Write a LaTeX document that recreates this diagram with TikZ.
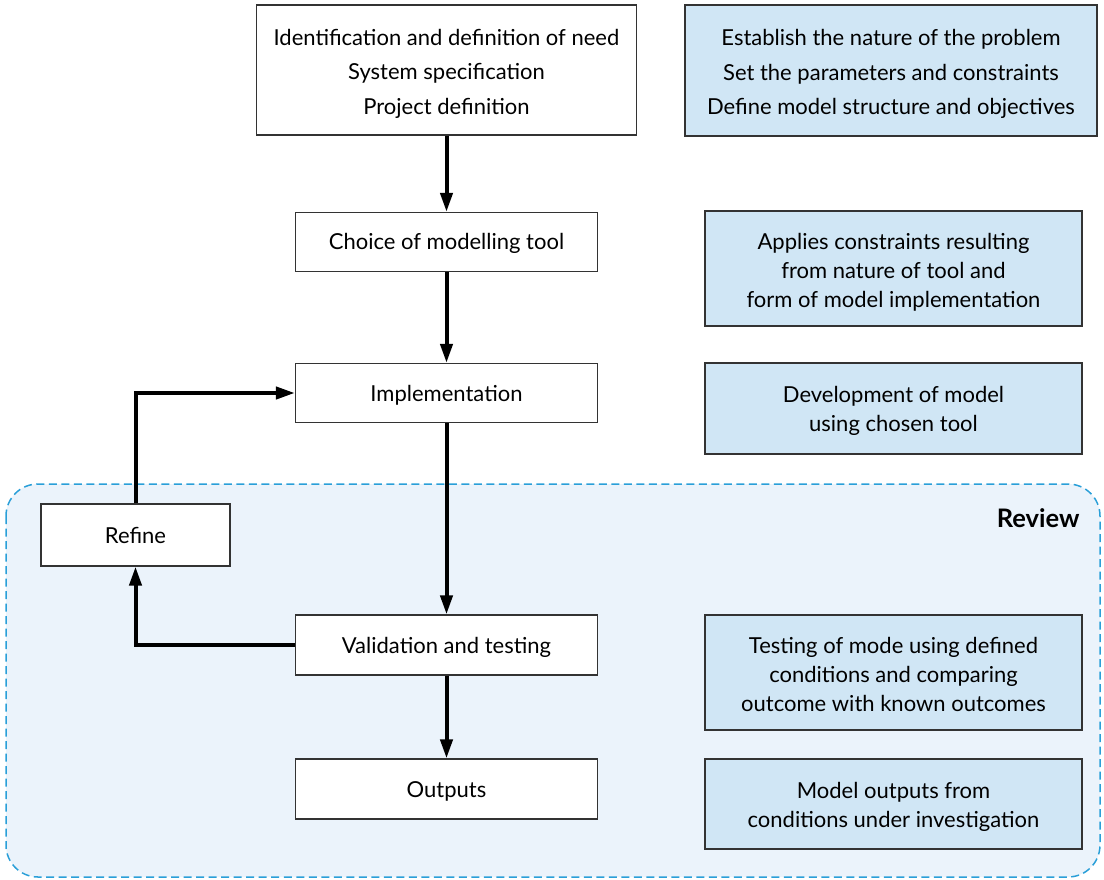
\documentclass[tikz,border=0pt]{standalone}
\usepackage{fontspec}
\setmainfont{Lato}
\usetikzlibrary{arrows.meta,positioning}
\definecolor{notefill}{HTML}{D0E6F5}
\definecolor{reviewfill}{HTML}{EBF3FB}
\definecolor{reviewline}{HTML}{2A9FD8}
\definecolor{boxline}{HTML}{333333}
% raises the first line of a multi-line label to a fixed height
\newcommand\leadin[1]{\rule{0pt}{#1}}
\tikzset{
  % fixed height and depth so single-line labels sit evenly
  labelled/.style={align=center, inner sep=0pt,
    execute at begin node={\rule{0pt}{20pt}},
    execute at end node={\rule[-4pt]{0pt}{4pt}}},
  stage/.style={labelled, draw=boxline, line width=1.2pt, fill=white},
  note/.style={labelled, draw=boxline, line width=1.2pt, fill=notefill},
  flow/.style={line width=4pt, -{Triangle[length=19pt,width=12pt]}},
  txt/.style={font=\fontsize{22}{29}\selectfont},
  widetxt/.style={font=\fontsize{22}{34.5}\selectfont},
}
\begin{document}
\begin{tikzpicture}[x=1pt,y=-1pt]
\useasboundingbox (0,0) rectangle (1104,879);
% review area
\draw[reviewline, fill=reviewfill, line width=1.5pt, dash pattern=on 8pt off 4.5pt, rounded corners=32pt]
  (6,484) rectangle (1100,877);
\node[anchor=east, font=\fontsize{25.5}{30}\selectfont\bfseries] (review) at (1083,518) {Review};

% main stages
\node[stage, widetxt, minimum width=380pt, minimum height=130pt] (need) at (446.5,70)
  {\leadin{23.5pt}Identification and definition of need\\System specification\\Project definition};
\node[stage, txt, minimum width=302pt, minimum height=59pt] (tool) at (446.5,242) {Choice of modelling tool};
\node[stage, txt, minimum width=302pt, minimum height=59pt] (impl) at (446.5,393) {Implementation};
\node[stage, txt, minimum width=302pt, minimum height=60pt] (valid) at (446.5,645) {Validation and testing};
\node[stage, txt, minimum width=302pt, minimum height=60pt] (out) at (446.5,789) {Outputs};
\node[stage, txt, minimum width=189pt, minimum height=62pt] (refine) at (135.5,535) {Refine};

% notes
\node[note, widetxt, minimum width=412pt, minimum height=131pt] (n1) at (891,70.5)
  {\leadin{23pt}Establish the nature of the problem\\Set the parameters and constraints\\Define model structure and objectives};
\node[note, txt, minimum width=377pt, minimum height=115pt] (n2) at (893.5,268.5)
  {\leadin{23.5pt}Applies constraints resulting\\from nature of tool and\\form of model implementation};
\node[note, txt, minimum width=377pt, minimum height=91pt] (n3) at (893.5,408.5)
  {\leadin{20.5pt}Development of model\\using chosen tool};
\node[note, txt, minimum width=377pt, minimum height=115pt] (n4) at (893.5,672.5)
  {\leadin{24.5pt}Testing of mode using defined\\conditions and comparing\\outcome with known outcomes};
\node[note, txt, minimum width=377pt, minimum height=90pt] (n5) at (893.5,804)
  {\leadin{22.5pt}Model outputs from\\conditions under investigation};

% connectors
\draw[flow] (need.south) -- (tool.north);
\draw[flow] (tool.south) -- (impl.north);
\draw[flow] (impl.south) -- (valid.north);
\draw[flow] (valid.south) -- (out.north);
\draw[flow] (valid.west) -| (refine.south);
\draw[flow] (refine.north) |- (impl.west);
\end{tikzpicture}
\end{document}
